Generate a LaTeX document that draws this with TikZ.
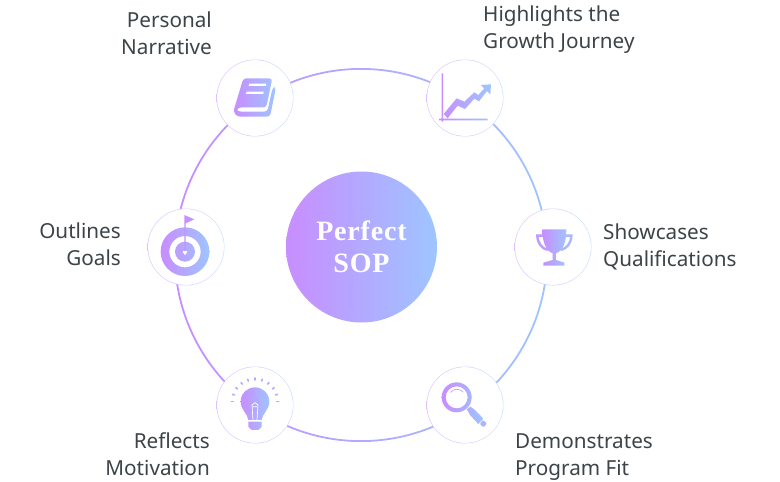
\documentclass[tikz,border=0pt]{standalone}
\usepackage{fontspec}
\setmainfont{Noto Sans}
\newfontfamily\hubfont[LetterSpace=3,BoldFont={Liberation Serif Bold}]{Liberation Serif}
\usetikzlibrary{calc}
\definecolor{gradleft}{HTML}{C88DFF}
\definecolor{gradright}{HTML}{9EC5FF}
\definecolor{labeltext}{HTML}{3C4448}
\tikzset{
	gradfill/.style={left color=gradleft,right color=gradright,draw=none},
	hub/.style={circle,gradfill,minimum size=151pt,inner sep=0pt,text=white,align=center,
		font=\hubfont\bfseries\fontsize{28}{32}\selectfont},
	badgerim/.style={circle,draw=none,left color=gradleft!55!white,right color=gradright!55!white,minimum size=77pt,inner sep=0pt},
	badgecore/.style={circle,fill=white,minimum size=75.8pt,inner sep=0pt},
	leftlabel/.style={anchor=east,align=right,inner sep=0pt,text=labeltext,font=\fontsize{20.7}{27}\selectfont},
	rightlabel/.style={anchor=west,align=left,inner sep=0pt,text=labeltext,font=\fontsize{20.7}{27}\selectfont},
	zoomed/.style={shift={(#1)},scale=0.3333}
}
\newcommand{\makebadge}[3]{
	\node[badgerim] (#1) at (#2,#3) {};
	\node[badgecore] (#1Core) at (#1) {};
}
\begin{document}
\begin{tikzpicture}[x=1pt,y=-1pt]
	\useasboundingbox (0,0) rectangle (780,482);
	\coordinate (RingMid) at (361,255);

	\shade[gradfill,even odd rule] (RingMid) circle (187) circle (185.2);

	\node[hub] (Hub) at (361.5,247) {Perfect\\SOP};

	\makebadge{Narrative}{255}{98}
	\makebadge{Growth}{465}{98}
	\makebadge{Goals}{186}{247}
	\makebadge{Qualifications}{553}{247}
	\makebadge{Motivation}{255}{405}
	\makebadge{Fit}{465}{405}

	\node[leftlabel] (NarrativeText) at (212,33.5) {Personal\\Narrative};
	\node[rightlabel] (GrowthText) at (483,29.5) {Highlights the\\Growth Journey};
	\node[leftlabel] (GoalsText) at (121,244.5) {Outlines\\Goals};
	\node[rightlabel] (QualificationsText) at (603,246.5) {Showcases\\Qualifications};
	\node[leftlabel] (MotivationText) at (210,454.5) {Reflects\\Motivation};
	\node[rightlabel] (FitText) at (515,457) {Demonstrates\\Program Fit};

	% book
	\begin{scope}[zoomed={200,50}]
		\shade[gradfill,rounded corners=3pt] (130,85) -- (217,85) -- (199,172) -- (118,172)
			-- (108,179) -- (115,185) -- (202,185) -- (218,112) -- (228,112) -- (210,200)
			-- (112,200) -- (100,185) -- cycle;
		\fill[white] (148,101) -- (199,101) -- (198,108) -- (146,108) -- cycle;
		\fill[white] (140,125) -- (191,125) -- (190,132) -- (138,132) -- cycle;
	\end{scope}

	% chart
	\begin{scope}[zoomed={415,50}]
		\shade[gradfill] (80,70) -- (84,70) -- (84,206) -- (218,206) -- (218,211) -- (84,211)
			-- (84,215) -- (80,215) -- (80,211) -- (72,211) -- (72,206) -- (80,206) -- cycle
			(86,192) -- (125,145) -- (148,155) -- (178,127) -- (190,135) -- (208,115)
			-- (198,105) -- (228,103) -- (226,133) -- (216,123) -- (192,154) -- (178,146)
			-- (150,177) -- (128,167) -- (98,205) -- cycle;
	\end{scope}

	% target
	\begin{scope}[zoomed={135,200}]
		\shade[gradfill,even odd rule] (150,155) circle (73) circle (47) (150,155) circle (30);
		\fill[gradleft!90!gradright] (148,45) -- (178,58) -- (152,70) -- (152,155) -- (148,155) -- cycle;
		\fill[white] (150,165) -- (143,156) -- (147,152) -- (150,155) -- (153,152) -- (157,156) -- cycle;
	\end{scope}

	% trophy
	\begin{scope}[zoomed={505,200}]
		\draw[gradleft!75!gradright,line width=2.4pt] (114,107) -- (97,107) .. controls (98,130) and (110,145) .. (128,150);
		\draw[gradleft!25!gradright,line width=2.4pt] (182,107) -- (199,107) .. controls (198,130) and (186,145) .. (168,150);
		\shade[gradfill] (112,88) -- (184,88) .. controls (184,125) and (175,152) .. (153,160)
			-- (153,180) -- (178,188) -- (178,197) -- (115,197) -- (115,188) -- (143,180) -- (143,160)
			.. controls (122,152) and (112,125) .. (112,88) -- cycle;
	\end{scope}

	% bulb
	\begin{scope}[zoomed={205,360}]
		\shade[gradfill] (130,180) .. controls (128,160) and (107,150) .. (107,125)
			.. controls (107,100) and (127,82) .. (150,82) .. controls (173,82) and (193,100) .. (193,125)
			.. controls (193,150) and (172,160) .. (170,180) -- cycle
			(130,185) -- (170,185) -- (170,200) -- (160,210) -- (140,210) -- (130,200) -- cycle;
		\draw[white,line width=0.7pt] (144,180) -- (141,135) -- (150,128) -- (159,135) -- (156,180)
			(144,140) -- (156,140);
		\foreach \tickangle in {0,18,...,180} {
			\draw[gradleft!50!gradright,line width=1.6pt,line cap=round]
				($(150,125)+(-\tickangle:65)$) -- ($(150,125)+(-\tickangle:71)$);
		}
	\end{scope}

	% magnifier
	\begin{scope}[zoomed={415,360}]
		\shade[gradfill,even odd rule] (125,112) circle (45) circle (33)
			(156,148) -- (166,140) -- (178,148) -- (205,176) -- (190,192) -- (165,165) -- cycle;
		\fill[gradleft!30!gradright,rounded corners=1pt] (204,180) -- (216,190) -- (206,202) -- (194,192) -- cycle;
		\draw[gradleft!70!gradright,line width=0.7pt,line cap=round] (107,97) .. controls (115,86) and (133,84) .. (144,96);
	\end{scope}
\end{tikzpicture}
\end{document}
